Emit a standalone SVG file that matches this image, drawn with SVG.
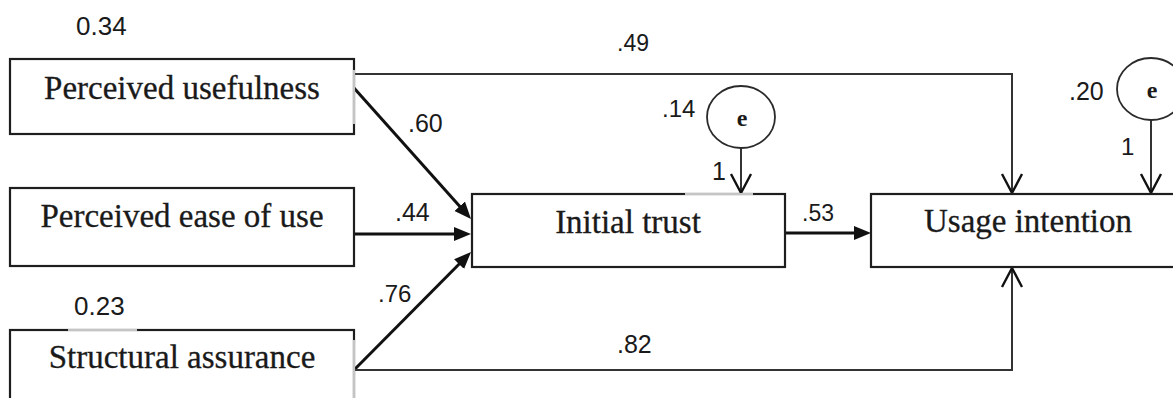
<svg xmlns="http://www.w3.org/2000/svg" width="1173" height="398" viewBox="0 0 1173 398">
  <style>
    .box { fill: #ffffff; stroke: #1e1e1e; stroke-width: 2.2; }
    .err { fill: #ffffff; stroke: #2a2a2a; stroke-width: 1.8; }
    .name { font-family: "Liberation Serif", "Times New Roman", serif; font-size: 33px; fill: #1a1a1a; text-anchor: middle; stroke: #1a1a1a; stroke-width: 0.3; }
    .ename { font-family: "Liberation Serif", "Times New Roman", serif; font-size: 24px; font-weight: bold; fill: #1a1a1a; text-anchor: middle; }
    .num { font-family: "Liberation Sans", Arial, sans-serif; fill: #1a1a1a; }
    .thick { fill: none; stroke: #111111; stroke-width: 3; }
    .thin { fill: none; stroke: #333333; stroke-width: 2; }
    .ghost { stroke: #c4c4c4; stroke-width: 2.2; }
  </style>
  <defs>
    <!-- solid head for the weighted paths into the trust construct -->
    <marker id="solid" markerUnits="userSpaceOnUse" markerWidth="18" markerHeight="16" viewBox="0 0 18 16" refX="9" refY="8" orient="auto">
      <path d="M0,1 L17,8 L0,15 Z" fill="#111111"/>
    </marker>
    <!-- open V head for direct paths and error terms -->
    <marker id="open" markerUnits="userSpaceOnUse" markerWidth="24" markerHeight="24" viewBox="0 0 24 24" refX="20" refY="12" orient="auto">
      <path d="M1,2 L20,12 L1,22" fill="none" stroke="#111111" stroke-width="2.4"/>
    </marker>
  </defs>
  <rect width="1173" height="398" fill="#ffffff"/>

  <!-- connectors -->
  <g id="connectors">
    <line class="thick" x1="354" y1="88" x2="465.7" y2="213" marker-end="url(#solid)"/>
    <line class="thick" x1="354" y1="234" x2="463" y2="234" marker-end="url(#solid)"/>
    <line class="thick" x1="354" y1="370" x2="465.4" y2="257.7" marker-end="url(#solid)"/>
    <line class="thick" x1="785" y1="233" x2="863" y2="233" marker-end="url(#solid)"/>
    <polyline class="thin" points="354,74 1012,74 1012,193" marker-end="url(#open)"/>
    <polyline class="thin" points="354,370 1012,370 1012,268" marker-end="url(#open)"/>
    <line class="thin" x1="741" y1="148" x2="741" y2="193" marker-end="url(#open)"/>
    <line class="thin" x1="1151" y1="120" x2="1151" y2="193" marker-end="url(#open)"/>
  </g>

  <!-- path coefficients -->
  <g id="coefficients">
    <text class="num" x="617" y="51" font-size="23">.49</text>
    <text class="num" x="408" y="132" font-size="25">.60</text>
    <text class="num" x="395" y="221" font-size="25">.44</text>
    <text class="num" x="378" y="302" font-size="24">.76</text>
    <text class="num" x="617" y="353" font-size="25">.82</text>
    <text class="num" x="802" y="221" font-size="23">.53</text>
  </g>

  <g id="perceived-usefulness">
    <rect class="box" x="10" y="59" width="344" height="75"/>
    <line class="ghost" x1="354" y1="70" x2="354" y2="124"/>
    <text class="name" x="182" y="99">Perceived usefulness</text>
    <text class="num" x="76" y="35" font-size="26">0.34</text>
  </g>

  <g id="perceived-ease-of-use">
    <rect class="box" x="10" y="188" width="344" height="78"/>
    <text class="name" x="182" y="227">Perceived ease of use</text>
  </g>

  <g id="structural-assurance">
    <rect class="box" x="10" y="330" width="344" height="90"/>
    <line class="ghost" x1="68" y1="330" x2="137" y2="330"/>
    <line class="ghost" x1="354" y1="340" x2="354" y2="398"/>
    <text class="name" x="182" y="368">Structural assurance</text>
    <text class="num" x="74" y="315" font-size="26">0.23</text>
  </g>

  <g id="initial-trust">
    <rect class="box" x="472" y="194" width="313" height="73"/>
    <line class="ghost" x1="685" y1="194" x2="753" y2="194"/>
    <text class="name" x="628" y="233">Initial trust</text>
  </g>

  <g id="usage-intention">
    <rect class="box" x="871" y="194" width="314" height="73"/>
    <text class="name" x="1028" y="232">Usage intention</text>
  </g>

  <g id="error-trust">
    <ellipse class="err" cx="741" cy="117" rx="34" ry="31"/>
    <text class="ename" x="742" y="126">e</text>
    <text class="num" x="662" y="117" font-size="24">.14</text>
    <text class="num" x="712" y="180" font-size="25">1</text>
  </g>

  <g id="error-usage">
    <ellipse class="err" cx="1151" cy="89" rx="34" ry="31"/>
    <text class="ename" x="1152" y="98">e</text>
    <text class="num" x="1069" y="100" font-size="25">.20</text>
    <text class="num" x="1121" y="155" font-size="24">1</text>
  </g>
</svg>
